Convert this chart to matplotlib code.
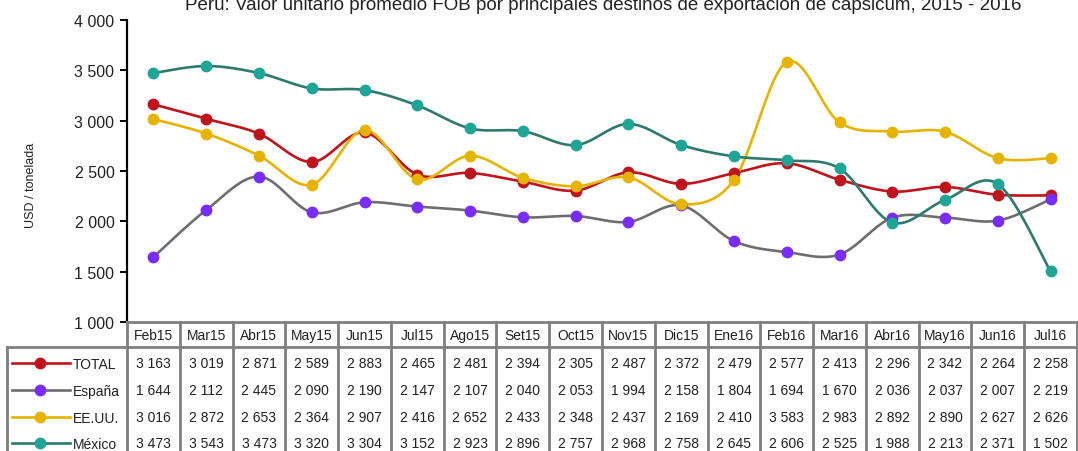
import numpy as np
import matplotlib
matplotlib.use('Agg')
import matplotlib.pyplot as plt
from matplotlib.transforms import blended_transform_factory

plt.rcParams['font.family'] = ['Liberation Sans', 'DejaVu Sans']

months = ['Feb15', 'Mar15', 'Abr15', 'May15', 'Jun15', 'Jul15', 'Ago15', 'Set15', 'Oct15',
          'Nov15', 'Dic15', 'Ene16', 'Feb16', 'Mar16', 'Abr16', 'May16', 'Jun16', 'Jul16']
total = [3163, 3019, 2871, 2589, 2883, 2465, 2481, 2394, 2305, 2487, 2372, 2479, 2577, 2413, 2296, 2342, 2264, 2258]
espana = [1644, 2112, 2445, 2090, 2190, 2147, 2107, 2040, 2053, 1994, 2158, 1804, 1694, 1670, 2036, 2037, 2007, 2219]
eeuu = [3016, 2872, 2653, 2364, 2907, 2416, 2652, 2433, 2348, 2437, 2169, 2410, 3583, 2983, 2892, 2890, 2627, 2626]
mexico = [3473, 3543, 3473, 3320, 3304, 3152, 2923, 2896, 2757, 2968, 2758, 2645, 2606, 2525, 1988, 2213, 2371, 1502]

series = [
    ('TOTAL', total, '#c0141c', '#c0141c'),
    ('España', espana, '#6e6e6e', '#7a2dfa'),
    ('EE.UU.', eeuu, '#e6b400', '#e6b400'),
    ('México', mexico, '#2e7a6e', '#1fa597'),
]

W, H = 1078, 452


def fx(px):
    return px / W


def fy(py):
    return 1 - py / H


def fmt(v):
    return f"{v:,}".replace(",", " ")


# Excel-like smoothed line (bezier through the points)
def smooth(y, n=24):
    pts = np.column_stack([np.arange(len(y)), np.asarray(y, float)])
    ext = np.vstack([pts[0], pts, pts[-1]])
    t = np.linspace(0, 1, n)[:, None]
    out = []
    for i in range(len(pts) - 1):
        p0, p1, p2, p3 = ext[i], ext[i + 1], ext[i + 2], ext[i + 3]
        c1 = p1 + (p2 - p0) / 6
        c2 = p2 - (p3 - p1) / 6
        seg = (1 - t) ** 3 * p1 + 3 * (1 - t) ** 2 * t * c1 + 3 * (1 - t) * t ** 2 * c2 + t ** 3 * p2
        out.append(seg if i == 0 else seg[1:])
    return np.vstack(out)


fig = plt.figure(figsize=(W / 100, H / 100), dpi=100)
ax = fig.add_axes([fx(127), fy(323), fx(950), 302 / H])

n = len(months)
x = np.arange(n)
for name, vals, lc, mc in series:
    curve = smooth(vals)
    ax.plot(curve[:, 0], curve[:, 1], color=lc, lw=1.9, zorder=2, clip_on=False)
    ax.plot(x, vals, 'o', color=mc, ms=7.5, zorder=3, clip_on=False)

ax.set_xlim(-0.5, n - 0.5)
ax.set_ylim(1000, 4000)
ax.set_yticks(np.arange(1000, 4001, 500))
ax.set_yticklabels([fmt(v) for v in range(1000, 4001, 500)], fontsize=11.5, color='#222222')
ax.set_xticks([])
for s in ['top', 'right', 'bottom']:
    ax.spines[s].set_visible(False)
ax.spines['left'].set_linewidth(1.6)
ax.spines['left'].set_color('black')
ax.tick_params(axis='y', direction='out', length=5, width=1.4, pad=4)

fig.text(fx(603), fy(10), 'Perú: Valor unitario promedio FOB por principales destinos de exportación de capsicum, 2015 - 2016',
         ha='center', va='baseline', fontsize=13.5, color='#222222')
fig.text(fx(31), fy(185), 'USD / tonelada', rotation=90, ha='center', va='center', fontsize=9, color='#222222')

# data table under the chart
tr = blended_transform_factory(ax.transData, fig.transFigure)
gc = '#7f7f7f'
lw = 2
for k in range(n + 1):
    fig.add_artist(plt.Line2D([k - 0.5, k - 0.5], [fy(323), fy(H)], transform=tr, color=gc, lw=lw))
fig.add_artist(plt.Line2D([-0.5, n - 0.5], [fy(323), fy(323)], transform=tr, color=gc, lw=lw))
right_px = ax.get_position().x1 * W
fig.add_artist(plt.Line2D([fx(7), fx(right_px)], [fy(348), fy(348)], color=gc, lw=lw))
fig.add_artist(plt.Line2D([fx(7), fx(7)], [fy(348), fy(H)], color=gc, lw=lw))

for i, m in enumerate(months):
    fig.text(i, fy(336), m, transform=tr, ha='center', va='center', fontsize=10, color='#222222')

row_y = [364, 391, 418, 444]
for (name, vals, lc, mc), ry in zip(series, row_y):
    fig.add_artist(plt.Line2D([fx(12), fx(70)], [fy(ry), fy(ry)], color=lc, lw=1.9))
    fig.add_artist(plt.Line2D([fx(40)], [fy(ry)], marker='o', color=mc, ms=7.5))
    fig.text(fx(73), fy(ry + 1), name, ha='left', va='center', fontsize=10, color='#222222')
    for i, v in enumerate(vals):
        fig.text(i, fy(ry), fmt(v), transform=tr, ha='center', va='center', fontsize=10, color='#222222')

fig.savefig('out.png', dpi=100)
